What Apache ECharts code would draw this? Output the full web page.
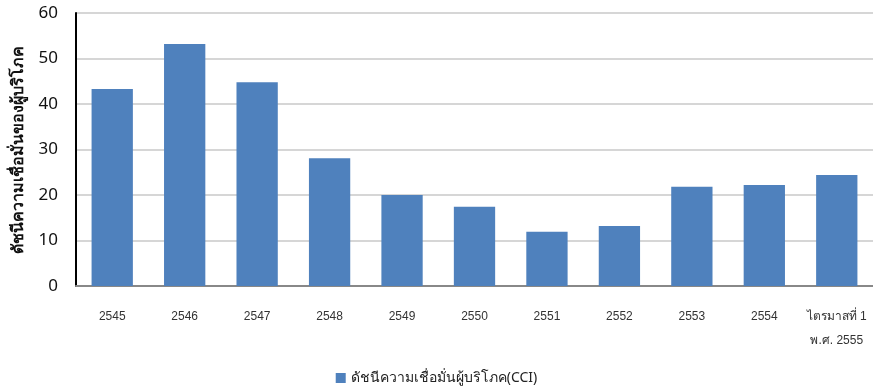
<!DOCTYPE html>
<html>
<head>
<meta charset="utf-8">
<script src="https://cdn.jsdelivr.net/npm/echarts@6/dist/echarts.min.js"></script>
<style>
  html, body { margin: 0; padding: 0; background: #fff; }
  #chart { width: 873px; height: 389px; }
</style>
</head>
<body>
<div id="chart"></div>
<script>
const categories = ['2545', '2546', '2547', '2548', '2549', '2550', '2551', '2552', '2553', '2554', 'ไตรมาสที่ 1\nพ.ศ. 2555'];
const cciValues = [43.3, 53.2, 44.8, 28.1, 20.0, 17.4, 11.9, 13.2, 21.8, 22.2, 24.4];
const seriesName = 'ดัชนีความเชื่อมั่นผู้บริโภค(CCI)';
const yTitle = 'ดัชนีความเชื่อมั่นของผู้บริโภค';

const font = '"Noto Sans", "Open Sans", sans-serif';
const chart = echarts.init(document.getElementById('chart'));
chart.setOption({
  animation: false,
  grid: { left: 76, right: 0, top: 13, bottom: 103 },
  legend: {
    bottom: -1,
    left: 'center',
    itemWidth: 10,
    itemHeight: 10,
    itemGap: 6,
    icon: 'rect',
    textStyle: { fontSize: 14, color: '#222', fontFamily: font }
  },
  xAxis: {
    type: 'category',
    data: categories,
    axisLine: { lineStyle: { color: '#888', width: 2 } },
    axisTick: { show: false },
    axisLabel: { fontSize: 12, color: '#333', margin: 19, lineHeight: 24, fontFamily: '"Liberation Sans", "Noto Sans", sans-serif', interval: 0 }
  },
  yAxis: {
    type: 'value',
    min: 0,
    max: 60,
    interval: 10,
    name: yTitle,
    nameLocation: 'middle',
    nameGap: 50,
    nameTextStyle: { fontSize: 16, fontWeight: 'bold', color: '#111', fontFamily: font },
    axisLine: { show: true, lineStyle: { color: '#000', width: 2 } },
    axisTick: { show: false },
    axisLabel: { fontSize: 17, color: '#111', margin: 18, fontFamily: font },
    splitLine: { lineStyle: { color: '#c8c8c8', width: 1.5 } }
  },
  series: [{
    name: seriesName,
    type: 'bar',
    data: cciValues,
    barWidth: '57%',
    itemStyle: { color: '#4f81bd' }
  }]
});
</script>
</body>
</html>
